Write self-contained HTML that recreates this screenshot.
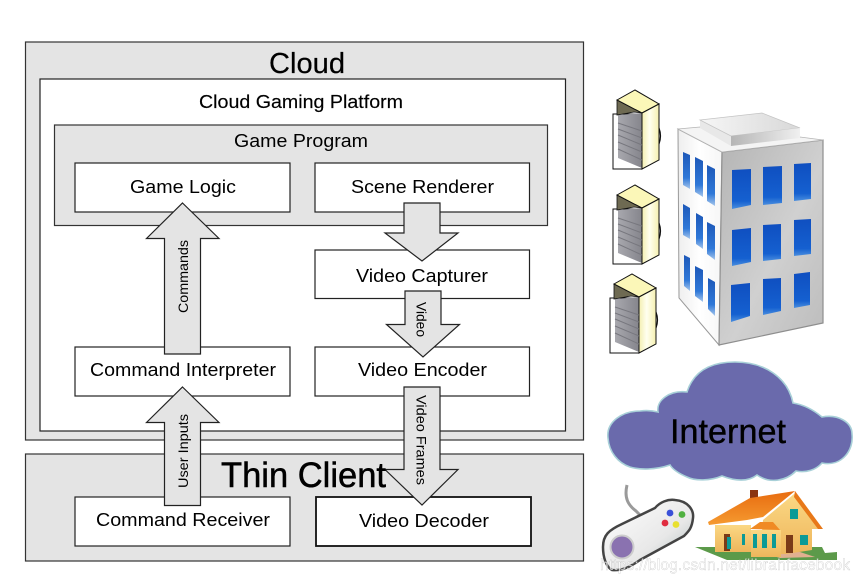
<!DOCTYPE html>
<html><head><meta charset="utf-8"><style>html,body{margin:0;padding:0;background:#fff}svg{display:block}text{font-family:"Liberation Sans",sans-serif;fill:#000}</style></head><body>
<svg width="859" height="583" viewBox="0 0 859 583" xmlns="http://www.w3.org/2000/svg">
<defs>
<linearGradient id="win" x1="0" y1="0" x2="0" y2="1"><stop offset="0" stop-color="#0f4fc0"/><stop offset=".8" stop-color="#1560d0"/><stop offset="1" stop-color="#4a8ede"/></linearGradient>
<linearGradient id="winl" x1="0" y1="0" x2="0" y2="1"><stop offset="0" stop-color="#1d58b8"/><stop offset=".7" stop-color="#2f78d8"/><stop offset="1" stop-color="#a5c6ec"/></linearGradient>
<linearGradient id="bf" x1="0" y1="0" x2="1" y2="1"><stop offset="0" stop-color="#b4b4b4"/><stop offset=".55" stop-color="#d0d0d0"/><stop offset="1" stop-color="#bcbcbc"/></linearGradient>
<linearGradient id="bl" x1="0" y1="0" x2="1" y2="0"><stop offset="0" stop-color="#eee"/><stop offset=".5" stop-color="#fff"/><stop offset="1" stop-color="#f6f6f6"/></linearGradient>
<linearGradient id="rt" x1="0" y1="0" x2="1" y2="0"><stop offset="0" stop-color="#b5b5b5"/><stop offset="1" stop-color="#f0f0f0"/></linearGradient>
<linearGradient id="rp" x1="0" y1="0" x2="1" y2="0"><stop offset="0" stop-color="#f6f6f6"/><stop offset="1" stop-color="#d8d8d8"/></linearGradient>
<linearGradient id="sy" x1="0" y1="0" x2="1" y2="0"><stop offset="0" stop-color="#f3efb0"/><stop offset=".45" stop-color="#fffff0"/><stop offset="1" stop-color="#f5f0b0"/></linearGradient>
<linearGradient id="sg" x1="0" y1="0" x2="1" y2="0"><stop offset="0" stop-color="#a8a8ae"/><stop offset="1" stop-color="#85858c"/></linearGradient>
<linearGradient id="roof" x1="0" y1="0" x2="0" y2="1"><stop offset="0" stop-color="#e86c10"/><stop offset="1" stop-color="#f59a30"/></linearGradient>
<linearGradient id="wall" x1="0" y1="0" x2="0" y2="1"><stop offset="0" stop-color="#fbd884"/><stop offset="1" stop-color="#eeb65c"/></linearGradient>
<linearGradient id="pad" x1="0" y1="0" x2="1" y2="1"><stop offset="0" stop-color="#fff"/><stop offset=".6" stop-color="#e8e8e8"/><stop offset="1" stop-color="#a8b8b8"/></linearGradient>
<g id="srv">
<path d="M-4-9H25V46H-4Z" fill="#fff" stroke="#111" stroke-width="1"/>
<path d="M1-8 25-10V45L1 35Z" fill="url(#sg)"/>
<path d="M0-23V-8L17-11 25-10Z" fill="#6e6a52" stroke="#111" stroke-width=".8"/>
<path d="M0-23 18-33 42-19 25-10Z" fill="#fbf7b8" stroke="#111" stroke-width="1"/>
<path d="M25-10 42-19V37L25 46Z" fill="url(#sy)" stroke="#111" stroke-width="1"/>
<path d="M1 0 25 8M1 6 25 15M1 12 25 22M1 19 25 29M1 26 25 37" stroke="#77777e" stroke-width="1" fill="none"/>
<path d="M42 5q3 8 0 16" fill="none" stroke="#111" stroke-width="1.2"/>
</g>
</defs>

<rect width="859" height="583" fill="#fff"/>
<rect x="25.5" y="42" width="558" height="398" fill="#e4e4e4" stroke="#333" stroke-width="1.2"/>
<rect x="40" y="79" width="525.5" height="352" fill="#fff" stroke="#222" stroke-width="1.2"/>
<rect x="54.5" y="125" width="493" height="100.5" fill="#e4e4e4" stroke="#333" stroke-width="1.2"/>
<rect x="75" y="163" width="215" height="49" fill="#fff" stroke="#222" stroke-width="1.2"/>
<rect x="315" y="163" width="214.5" height="49" fill="#fff" stroke="#222" stroke-width="1.2"/>
<rect x="315" y="250" width="214.5" height="48.5" fill="#fff" stroke="#222" stroke-width="1.2"/>
<rect x="75" y="347" width="215" height="49" fill="#fff" stroke="#222" stroke-width="1.2"/>
<rect x="315" y="347" width="214.5" height="49" fill="#fff" stroke="#222" stroke-width="1.2"/>
<rect x="25.5" y="454" width="558" height="107" fill="#e4e4e4" stroke="#333" stroke-width="1.2"/>
<rect x="75" y="497" width="215" height="49" fill="#fff" stroke="#222" stroke-width="1.2"/>
<rect x="316" y="497" width="215" height="49" fill="#fff" stroke="#111" stroke-width="1.8"/>

<text x="269" y="73" font-size="29" textLength="76" lengthAdjust="spacingAndGlyphs" stroke="#000" stroke-width=".2">Cloud</text>
<g font-size="18.5">
<text x="199" y="108" textLength="204" lengthAdjust="spacingAndGlyphs" stroke="#000" stroke-width=".15">Cloud Gaming Platform</text>
<text x="234" y="147" textLength="134" lengthAdjust="spacingAndGlyphs">Game Program</text>
<text x="130" y="193" textLength="106" lengthAdjust="spacingAndGlyphs">Game Logic</text>
<text x="351" y="193" textLength="143" lengthAdjust="spacingAndGlyphs">Scene Renderer</text>
<text x="356" y="282" textLength="132" lengthAdjust="spacingAndGlyphs">Video Capturer</text>
<text x="90" y="376" textLength="186" lengthAdjust="spacingAndGlyphs">Command Interpreter</text>
<text x="358" y="376" textLength="129" lengthAdjust="spacingAndGlyphs">Video Encoder</text>
<text x="96" y="526" textLength="174" lengthAdjust="spacingAndGlyphs">Command Receiver</text>
<text x="359" y="527" textLength="130" lengthAdjust="spacingAndGlyphs">Video Decoder</text>
</g>

<g fill="#e4e4e4" stroke="#222" stroke-width="1.2" stroke-linejoin="miter">
<path d="M182.5 203 219 238.5H200.5V354H164.5V238.5H146.5Z"/>
<path d="M182.5 387 219 422.5H200.5V505.5H164.5V422.5H146.5Z"/>
<path d="M404 203H440V233H458L422 261 385 233H404Z"/>
<path d="M405 291H441V324.5H459.5L423 357 386.5 324.5H405Z"/>
<path d="M404 387H440V469.5H458L422 505 385 469.5H404Z"/>
</g>
<text x="221" y="487" font-size="35" textLength="165" lengthAdjust="spacingAndGlyphs" stroke="#000" stroke-width=".5">Thin Client</text>
<text transform="translate(188,276.5) rotate(-90)" font-size="14" text-anchor="middle" textLength="73" lengthAdjust="spacingAndGlyphs">Commands</text>
<text transform="translate(188,451) rotate(-90)" font-size="14" text-anchor="middle" textLength="74" lengthAdjust="spacingAndGlyphs">User Inputs</text>
<text transform="translate(416.5,319.5) rotate(90)" font-size="14" text-anchor="middle" textLength="35" lengthAdjust="spacingAndGlyphs">Video</text>
<text transform="translate(416.5,440) rotate(90)" font-size="14" text-anchor="middle" textLength="90" lengthAdjust="spacingAndGlyphs">Video Frames</text>

<!-- servers -->
<use href="#srv" x="617" y="123"/>
<use href="#srv" x="617" y="218"/>
<use href="#srv" x="614" y="307"/>

<!-- building -->
<g>
<path d="M678 129 722 152 719 345 679 298Z" fill="url(#bl)" stroke="#999" stroke-width="1"/>
<path d="M722 152 823 140V323L719 345Z" fill="url(#bf)" stroke="#8e8e8e" stroke-width="1.2"/>
<path d="M678 129 700 127 731 145 800 137 823 140 722 152Z" fill="#f4f4f4" stroke="#b5b5b5" stroke-width=".8"/>
<path d="M700 120 731 136V146L700 128Z" fill="#e8e8e8"/>
<path d="M700 120 762 113 800 128 731 136Z" fill="url(#rp)" stroke="#c4c4c4" stroke-width=".8"/>
<path d="M731 136 800 128 800 138 731 146Z" fill="url(#rt)"/>
<g fill="url(#winl)">
<path d="M683 152 690 155V189L683 185Z"/><path d="M695 157 703 161V197L695 192Z"/><path d="M707 165 715 169V206L707 201Z"/>
<path d="M683 204 690 208V239L683 235Z"/><path d="M696 213 703 217V249L696 244Z"/><path d="M707 222 715 226V260L707 254Z"/>
<path d="M684 255 690 258V291L684 286Z"/><path d="M695 266 703 270V302L695 296Z"/><path d="M708 278 715 282V316L708 309Z"/>
</g>
<g fill="url(#win)">
<path d="M732 170 751 169V205L732 209Z"/><path d="M763 167 782 166V203L763 205Z"/><path d="M794 164 811 163V199L794 201Z"/>
<path d="M732 230 751 228V262L732 266Z"/><path d="M763 225 781 224V259L763 261Z"/><path d="M794 220 811 219V254L794 256Z"/>
<path d="M731 285 750 283V316L731 322Z"/><path d="M763 279 781 278V311L763 315Z"/><path d="M794 274 810 272V305L794 308Z"/>
</g>
</g>

<!-- cloud -->
<path d="M608 438C606 422 622 411 640 411C648 410 654 411 658 412C656 400 670 390 687 392C694 370 712 362 735 362C765 362 788 378 793 403C806 405 816 412 822 417C838 414 852 422 852 434C854 450 842 467 822 463C816 470 806 473 796 471C786 481 770 484 757 475C748 482 735 481 722 476C710 481 695 481 687 477C680 474 673 470 670 465C655 470 640 470 630 467C618 463 609 452 608 438Z" fill="#6a6aac" stroke="#a8d0d8" stroke-width="1.6"/>
<text x="670" y="443" font-size="34" textLength="116" lengthAdjust="spacingAndGlyphs" stroke="#000" stroke-width=".4">Internet</text>

<!-- controller -->
<g>
<path d="M627 485C624 498 628 505 636 511L641 516" fill="none" stroke="#9a9a9a" stroke-width="3"/>
<path d="M636 517 645 512 652 516 642 522Z" fill="#ddd" stroke="#888" stroke-width=".7"/>
<path d="M603 547C603 535 609 530 622 524L655 508C660 502 668 499 675 500 688 501 694 510 693 518 692 528 689 531 684 536L640 560C630 567 622 571 612 570 606 567 603 557 603 547Z" fill="url(#pad)" stroke="#444" stroke-width="2.5"/>
<circle cx="622" cy="547" r="11.5" fill="#8a72b0" stroke="#ccc" stroke-width="2"/>
<circle cx="670" cy="513" r="3.4" fill="#3a50d8"/>
<circle cx="682" cy="514.5" r="3.4" fill="#50b040"/>
<circle cx="665" cy="523" r="3.4" fill="#e02c40"/>
<circle cx="676" cy="524.5" r="3.4" fill="#e8e030"/>
</g>

<!-- house -->
<g>
<path d="M695 547 727 560 837 560 837 552 825 553 822 547Z" fill="#5c9a4a"/>
<path d="M760 552H800L815 557 780 558Z" fill="#e0b090"/>
<rect x="715" y="525" width="36" height="27" fill="url(#wall)"/>
<path d="M763 520 794 494 820 529H812V550L786 554H760Z" fill="url(#wall)"/>
<path d="M795 491 823 529H818L794 497Z" fill="#e87818"/>
<path d="M750 490H758V503L750 504Z" fill="#8b3410"/>
<path d="M708 522 750 498 795 491 763 517 747 520 709 525Z" fill="url(#roof)"/>
<rect x="751" y="530" width="30" height="27" fill="url(#wall)"/>
<path d="M750 529 760 522H773L780 530Z" fill="#f08a24"/>
<rect x="724" y="534" width="6" height="17" fill="#7a3a18"/>
<rect x="727" y="537" width="4" height="12" fill="#0c9a96"/>
<rect x="742" y="534" width="3" height="11" fill="#0c9a96"/>
<rect x="753" y="534" width="4" height="14" fill="#0c9a96"/>
<rect x="762" y="534" width="5" height="14" fill="#0c9a96"/>
<rect x="772" y="534" width="4" height="14" fill="#0c9a96"/>
<rect x="786" y="535" width="7" height="18" fill="#7a3a18"/>
<rect x="800" y="535" width="8" height="10" fill="#0c9a96"/>
<rect x="790" y="509" width="8" height="10" fill="#0c9a96"/>
</g>

<text x="600" y="570" font-size="15.5" style="fill:#ffffff;opacity:.72" stroke="#999" stroke-width=".25" textLength="250">https://blog.csdn.net/librahfacebook</text>
</svg>
</body></html>
